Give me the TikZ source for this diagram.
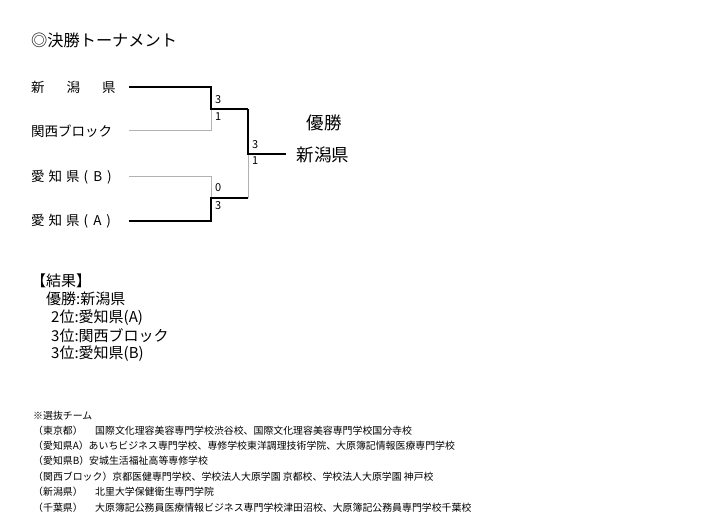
\documentclass[tikz,border=0pt]{standalone}
\usepackage{fontspec}
\setmainfont{Noto Sans CJK JP}
\begin{document}
\begin{tikzpicture}[x=1pt,y=-1pt,
  win/.style={line width=1.6pt,black},
  lose/.style={line width=1pt,gray!60},
  nm/.style={anchor=west,inner sep=0,font=\fontsize{13.5}{14}\selectfont},
  sc/.style={anchor=west,inner sep=0,font=\fontsize{11}{12}\selectfont},
  res/.style={anchor=west,inner sep=0,font=\fontsize{15}{16}\selectfont},
  ft/.style={anchor=west,inner sep=0,font=\fontsize{9.9}{10}\selectfont}]
\useasboundingbox (0,0) rectangle (709,529);
\node[anchor=west,inner sep=0,font=\fontsize{16.2}{17}\selectfont] (title) at (31,40) {◎決勝トーナメント};
\node[nm] (t1) at (31,87) {新\hspace{22pt}潟\hspace{22pt}県};
\node[nm] (t2) at (31,131) {関西ブロック};
\node[nm] (t3) at (31,177) {愛\hspace{4pt}知\hspace{4pt}県\hspace{4pt}(\hspace{5pt}B\hspace{5pt})};
\node[nm] (t4) at (31,221) {愛\hspace{4pt}知\hspace{4pt}県\hspace{4pt}(\hspace{5pt}A\hspace{5pt})};
\coordinate (a1) at (129,87); \coordinate (a2) at (129,131);
\coordinate (a3) at (129,177); \coordinate (a4) at (129,221);
\coordinate (m1) at (211,109); \coordinate (m2) at (211,198);
\coordinate (f) at (248,154); \coordinate (w) at (286,154);
\draw[lose] (a2) -| (m1); \draw[win] (a1) -| (m1) -- (248,109);
\draw[lose] (a3) -| (m2); \draw[win] (a4) -| (m2) -- (248,198);
\draw[lose] (248,198) -- (f); \draw[win] (248,109) -- (f) -- (w);
\node[sc] (s1) at (215,100) {3}; \node[sc] (s2) at (215,117) {1};
\node[sc] (s3) at (215,188) {0}; \node[sc] (s4) at (215,206) {3};
\node[sc] (s5) at (252,145) {3}; \node[sc] (s6) at (252,161) {1};
\node[inner sep=0,font=\fontsize{17.5}{18}\selectfont] (yu) at (324,123) {優勝};
\node[inner sep=0,font=\fontsize{17.5}{18}\selectfont] (champ) at (323,155) {新潟県};
\node[res] (r0) at (31,281) {【結果】};
\node[res] (r1) at (46,299) {優勝:新潟県};
\node[res] (r2) at (51,318) {2位:愛知県(A)};
\node[res] (r3) at (51,336) {3位:関西ブロック};
\node[res] (r4) at (51,354) {3位:愛知県(B)};
\node[ft] (f0) at (33,416) {※選抜チーム};
\node[ft] (f1) at (33,431) {（東京都）};
\node[ft] (f1b) at (95,431) {国際文化理容美容専門学校渋谷校、国際文化理容美容専門学校国分寺校};
\node[ft] (f2) at (33,446) {（愛知県A）あいちビジネス専門学校、専修学校東洋調理技術学院、大原簿記情報医療専門学校};
\node[ft] (f3) at (33,461) {（愛知県B）安城生活福祉高等専修学校};
\node[ft] (f4) at (33,477) {（関西ブロック）京都医健専門学校、学校法人大原学園 京都校、学校法人大原学園 神戸校};
\node[ft] (f5) at (33,492) {（新潟県）};
\node[ft] (f5b) at (95,492) {北里大学保健衛生専門学院};
\node[ft] (f6) at (33,508) {（千葉県）};
\node[ft] (f6b) at (95,508) {大原簿記公務員医療情報ビジネス専門学校津田沼校、大原簿記公務員専門学校千葉校};
\end{tikzpicture}
\end{document}
